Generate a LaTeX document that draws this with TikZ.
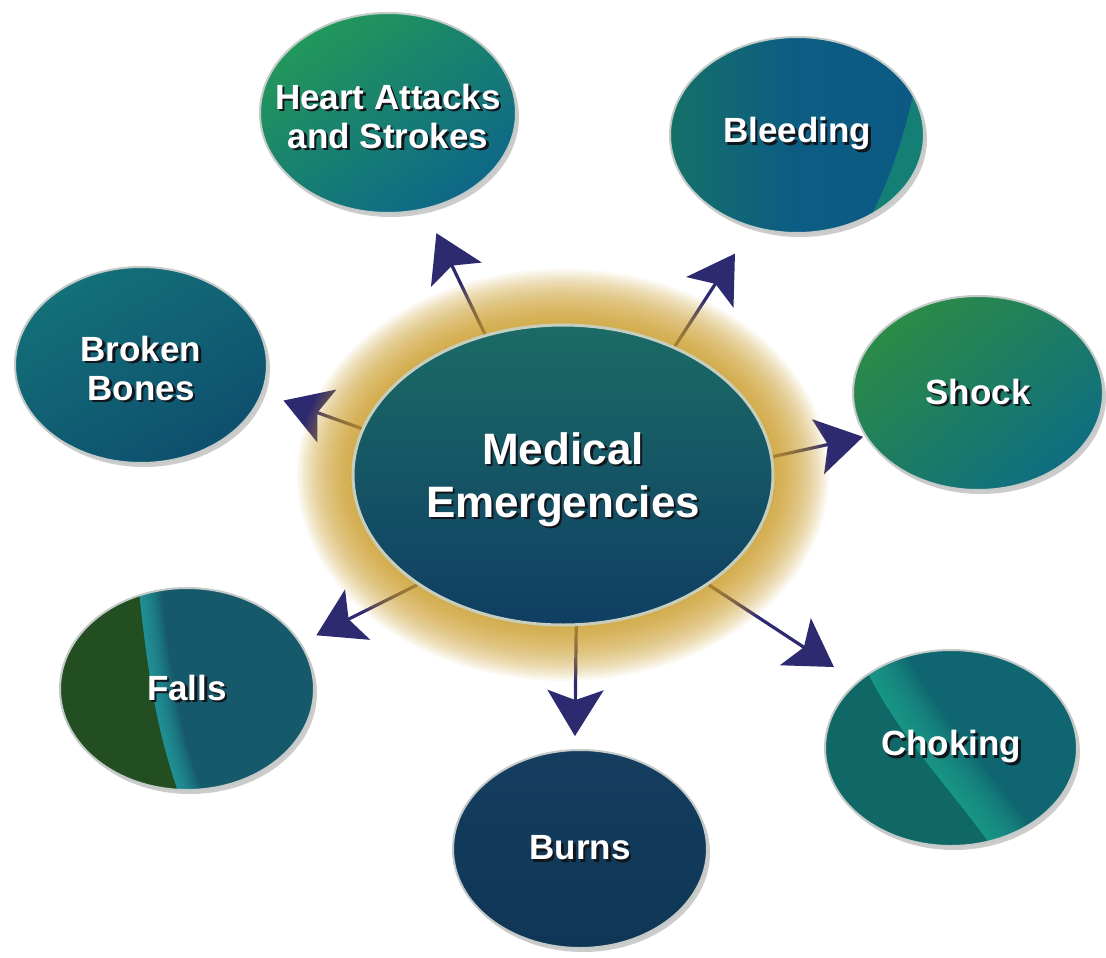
\documentclass[tikz,border=0pt]{standalone}
\usepackage{fontspec}
\setmainfont{Liberation Sans}
\usetikzlibrary{shapes.geometric,arrows.meta,shadows,calc}
\pgfdeclarelayer{bg}\pgfdeclarelayer{arrowlayer}\pgfdeclarelayer{glowlayer}
\pgfsetlayers{bg,arrowlayer,glowlayer,main}
\definecolor{arrowc}{RGB}{45,42,112}
\definecolor{glowc}{RGB}{208,160,40}
\definecolor{rimc}{RGB}{196,202,200}
\definecolor{crimc}{RGB}{200,206,190}
\definecolor{shtxt}{RGB}{18,22,28}
\definecolor{heartA}{HTML}{22985A}
\definecolor{heartB}{HTML}{0E6788}
\definecolor{bleedL}{HTML}{157068}
\definecolor{bleedM}{HTML}{0C5C83}
\definecolor{bleedR}{HTML}{0C5A84}
\definecolor{bleedG}{HTML}{1A9A6C}
\definecolor{bbA}{HTML}{137078}
\definecolor{bbB}{HTML}{0E4F6E}
\definecolor{shockA}{HTML}{2B8B46}
\definecolor{shockB}{HTML}{0F6E80}
\definecolor{fallsL}{HTML}{234E22}
\definecolor{fallsR}{HTML}{16596A}
\definecolor{fallsS}{HTML}{28ABAA}
\definecolor{burnsA}{HTML}{143D5F}
\definecolor{burnsB}{HTML}{0F3655}
\definecolor{burnsG}{HTML}{1E5C3A}
\definecolor{chokL}{HTML}{0F6866}
\definecolor{chokR}{HTML}{0F6670}
\definecolor{chokS}{HTML}{22AA92}
\definecolor{cenA}{HTML}{1B6B66}
\definecolor{cenB}{HTML}{0F3E63}
\newcommand\shd[1]{\rlap{\kern2.5pt\raisebox{-2.5pt}{\textcolor{shtxt}{#1}}}\textcolor{white}{#1}}
\newcommand\oneline[1]{\makebox[0pt]{\shd{#1}}}
\newcommand\twolines[3][0pt]{\makebox[0pt]{\raisebox{-#1}[\height][\depth]{\begin{tabular}{@{}c@{}}\shd{#2}\\\shd{#3}\end{tabular}}}}
\tikzset{
  sat/.style={ellipse, inner sep=0pt, draw=rimc, line width=2pt,
    font=\fontsize{35}{39}\selectfont\bfseries,
    drop shadow={shadow xshift=3pt, shadow yshift=-4pt, opacity=0.4}},
  arr/.style={draw=arrowc, line width=3.2pt,
    -{Stealth[length=46pt,width=56pt,inset=10pt,fill=arrowc]}},
}
\begin{document}
\begin{tikzpicture}[x=1pt,y=-1pt]
\useasboundingbox (0,0) rectangle (1106,958);
\begin{pgfonlayer}{bg}
\fill[white] (0,0) rectangle (1106,958);
\end{pgfonlayer}

% satellites
\node[sat, minimum width=256pt, minimum height=200pt,
  top color=heartA, bottom color=heartB, shading angle=35] (heart) at (388,113)
  {\twolines[8pt]{Heart Attacks}{and Strokes}};
\node[sat, minimum width=254pt, minimum height=196pt,
  left color=bleedL, right color=bleedR, middle color=bleedM,
  path picture={\begin{scope}[shift={(path picture bounding box.center)}]
    \fill[bleedG, opacity=0.6] (122,-75) .. controls (105,10) and (85,60) .. (50,115) -- (150,115) -- (150,-75) -- cycle;
  \end{scope}}] (bleed) at (797,135) {\oneline{Bleeding}};
\node[sat, minimum width=252pt, minimum height=196pt,
  top color=bbA, bottom color=bbB, shading angle=30] (bb) at (141,365)
  {\twolines[8pt]{Broken}{Bones}};
\node[sat, minimum width=250pt, minimum height=194pt,
  top color=shockA, bottom color=shockB, shading angle=40] (shock) at (978,393)
  {\oneline{Shock}};
\node[sat, minimum width=254pt, minimum height=202pt, fill=fallsL,
  path picture={\begin{scope}[shift={(path picture bounding box.center)}]
    \clip (-49,-120) .. controls (-40,-30) and (-30,40) .. (0,115) -- (150,115) -- (150,-120) -- cycle;
    \fill[fallsR] (-150,-150) rectangle (150,150);
    \foreach \w in {4,8,...,44}{\draw[fallsS, line width=\w pt, opacity=0.1] (-49,-120) .. controls (-40,-30) and (-30,40) .. (0,115);}
  \end{scope}}] (falls) at (187,689) {\oneline{Falls}};
\node[sat, minimum width=254pt, minimum height=198pt,
  top color=burnsA, bottom color=burnsB,
  path picture={\begin{scope}[shift={(path picture bounding box.center)}]
    \fill[burnsG, opacity=0.7] (128,-5) .. controls (115,50) and (70,85) .. (10,105) -- (150,150) -- (150,-5) -- cycle;
  \end{scope}}] (burns) at (580,849) {\oneline{Burns}};
\node[sat, minimum width=252pt, minimum height=196pt, fill=chokL,
  path picture={\begin{scope}[shift={(path picture bounding box.center)}]
    \clip (-95,-110) .. controls (-65,-30) and (0,30) .. (58,115) -- (150,115) -- (150,-110) -- cycle;
    \fill[chokR] (-150,-150) rectangle (150,150);
    \foreach \w in {6,12,...,84}{\draw[chokS, line width=\w pt, opacity=0.09] (-95,-110) .. controls (-65,-30) and (0,30) .. (58,115);}
  \end{scope}}] (chok) at (951,748) {\oneline{Choking}};

% centre
\node[ellipse, inner sep=0pt, minimum width=420pt, minimum height=300pt,
  draw=crimc, line width=3pt, top color=cenA, bottom color=cenB,
  font=\fontsize{44}{53}\selectfont\bfseries] (c) at (563,475)
  {\twolines[5pt]{Medical}{Emergencies}};

% glow
\begin{pgfonlayer}{glowlayer}
\foreach \k in {1,...,28}{%
  \pgfmathsetmacro\rx{210+2*\k}\pgfmathsetmacro\ry{150+2*\k}%
  \fill[glowc, opacity=0.055] (c.center) ellipse [x radius=\rx pt, y radius=\ry pt];}
\end{pgfonlayer}

% arrows
\begin{pgfonlayer}{arrowlayer}
\draw[arr, shorten >=26pt] (c.119) -- (heart.-69);
\draw[arr, shorten >=31pt] (c.49) -- (bleed.-116);
\draw[arr, shorten >=22pt] (c.167) -- (bb.-13);
\draw[arr, shorten >=2pt] (c.5) -- (shock.-159);
\draw[arr, shorten >=17pt] (c.-143) -- (falls.22);
\draw[arr, shorten >=13pt] (c.-85) -- (burns.93);
\draw[arr, shorten >=27pt] (c.-37) -- (chok.145);
\end{pgfonlayer}
\end{tikzpicture}
\end{document}
